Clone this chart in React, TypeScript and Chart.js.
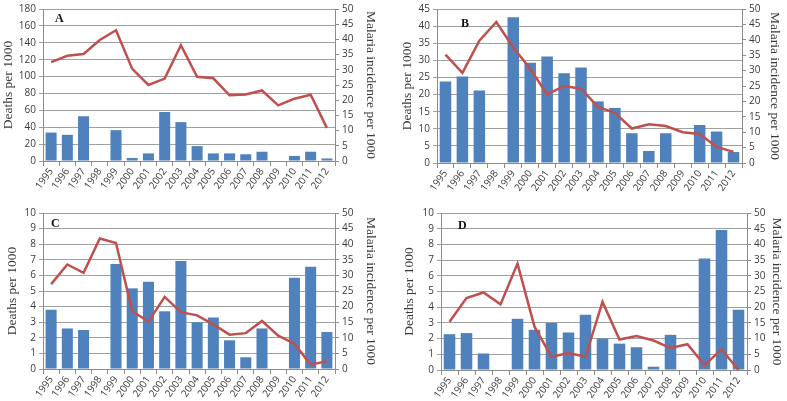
import React, { useEffect, useRef } from "react";
import { Chart, registerables } from "chart.js";
Chart.register(...registerables);

const years = ["1995","1996","1997","1998","1999","2000","2001","2002","2003","2004","2005","2006","2007","2008","2009","2010","2011","2012"];

const deathsA = [33.7, 31, 53, null, 36.5, 3.5, 9, 58, 46, 17.6, 9, 9, 8, 11, null, 6, 11, 3];
const incidenceA = [32.5, 34.6, 35.2, 39.8, 43, 30.3, 25, 27.1, 38.1, 27.7, 27.2, 21.6, 21.9, 23.2, 18.3, 20.5, 21.8, 10.9];

const deathsB = [23.8, 25.3, 21.2, null, 42.6, 29.3, 31.1, 26.2, 27.9, 18, 16.1, 8.7, 3.5, 8.7, null, 11.1, 9.2, 3.2];
const incidenceB = [35.2, 29.3, 39.7, 45.8, 37.5, 30.6, 22.3, 25, 24.1, 18.2, 16.3, 11.2, 12.6, 12, 10, 9.4, 5.2, 3.6];

const deathsC = [3.8, 2.6, 2.5, null, 6.73, 5.17, 5.6, 3.7, 6.92, 3.0, 3.3, 1.84, 0.75, 2.6, null, 5.85, 6.56, 2.37];
const incidenceC = [27.2, 33.5, 30.8, 41.8, 40.4, 18.5, 15.2, 23.1, 18.2, 17.2, 14.3, 11, 11.5, 15.4, 10.7, 8.1, 1.4, 2.5];

const deathsD = [2.28, 2.35, 1.05, null, 3.26, 2.56, 3.0, 2.39, 3.52, 2.0, 1.68, 1.45, 0.21, 2.24, null, 7.1, 8.91, 3.84];
const incidenceD = [15.4, 22.9, 24.7, 20.9, 33.9, 13.8, 4.2, 5.4, 4.2, 21.7, 9.7, 10.8, 9.4, 7.0, 8.2, 1.5, 6.6, 0];

const leftTitle = "Deaths per 1000";
const rightTitle = "Malaria incidence per 1000";

type Panel = {
  letter: string;
  deaths: (number | null)[];
  incidence: number[];
  leftMax: number;
  leftStep: number;
  box: { x: number; y: number; w: number; h: number };
  plot: { l: number; r: number; t: number; b: number };
  pad: { l: number; r: number };
  letterOff: { dx: number; dy: number };
};

const panels: Panel[] = [
  { letter: "A", deaths: deathsA, incidence: incidenceA, leftMax: 180, leftStep: 20,
    box: { x: 0, y: 0, w: 394, h: 200 }, plot: { l: 43, r: 335, t: 8, b: 161 }, pad: { l: 0, r: 15 }, letterOff: { dx: 12, dy: 4 } },
  { letter: "B", deaths: deathsB, incidence: incidenceB, leftMax: 45, leftStep: 5,
    box: { x: 394, y: 0, w: 393, h: 200 }, plot: { l: 43, r: 348, t: 6, b: 163 }, pad: { l: 5, r: 4 }, letterOff: { dx: 24, dy: 9 } },
  { letter: "C", deaths: deathsC, incidence: incidenceC, leftMax: 10, leftStep: 1,
    box: { x: 0, y: 200, w: 394, h: 201 }, plot: { l: 43, r: 335, t: 13, b: 169 }, pad: { l: 4, r: 15 }, letterOff: { dx: 8, dy: 5 } },
  { letter: "D", deaths: deathsD, incidence: incidenceD, leftMax: 10, leftStep: 1,
    box: { x: 394, y: 200, w: 393, h: 201 }, plot: { l: 47, r: 353, t: 13, b: 170 }, pad: { l: 7, r: 2 }, letterOff: { dx: 17, dy: 7 } },
];

const tickFont = { family: "'Open Sans', 'Liberation Sans', sans-serif", size: 10 };
const titleFont = { family: "'Liberation Serif', serif", size: 13.5 };
const textColor = "#3a3a3a";
const gridColor = "#a0a0a0";
const axisColor = "#8c8c8c";

function PanelChart({ p }: { p: Panel }) {
  const ref = useRef<HTMLCanvasElement | null>(null);
  useEffect(() => {
    if (!ref.current) return;
    const letterPlugin = {
      id: "letter" + p.letter,
      afterDraw(chart: any) {
        const ctx = chart.ctx;
        ctx.save();
        ctx.font = "bold 12px 'Liberation Serif', serif";
        ctx.fillStyle = "#111";
        ctx.textBaseline = "top";
        ctx.fillText(p.letter, chart.chartArea.left + p.letterOff.dx, chart.chartArea.top + p.letterOff.dy);
        ctx.restore();
      },
    };
    const chart = new Chart(ref.current, {
      type: "bar",
      data: {
        labels: years,
        datasets: [
          {
            type: "line",
            data: p.incidence,
            yAxisID: "y1",
            borderColor: "#c0504d",
            borderWidth: 2.5,
            pointRadius: 0,
            tension: 0,
            order: 0,
          } as any,
          {
            type: "bar",
            data: p.deaths,
            yAxisID: "y",
            backgroundColor: "#4f81bd",
            barPercentage: 1,
            categoryPercentage: 0.68,
            order: 1,
          } as any,
        ],
      },
      options: {
        animation: false,
        responsive: false,
        maintainAspectRatio: false,
        layout: { padding: { top: p.plot.t, left: p.pad.l, right: p.pad.r, bottom: 0 } },
        plugins: { legend: { display: false }, tooltip: { enabled: false } },
        scales: {
          x: {
            grid: { drawOnChartArea: false, offset: true, tickLength: 5, color: axisColor },
            border: { color: axisColor },
            ticks: { minRotation: 55, maxRotation: 55, autoSkip: false, font: tickFont, color: textColor, padding: 0 },
            afterFit: (s: any) => { s.height = p.box.h - p.plot.b; },
          },
          y: {
            position: "left",
            min: 0,
            max: p.leftMax,
            ticks: { stepSize: p.leftStep, font: tickFont, color: textColor, padding: 3 },
            grid: { color: gridColor, tickLength: 4 },
            border: { color: axisColor },
            title: { display: true, text: leftTitle, font: titleFont, color: textColor, padding: 0 },
            afterFit: (s: any) => { s.width = p.plot.l - p.pad.l; },
          },
          y1: {
            position: "right",
            min: 0,
            max: 50,
            ticks: { stepSize: 5, font: tickFont, color: textColor, padding: 3 },
            grid: { drawOnChartArea: false, tickLength: 4, color: axisColor },
            border: { color: axisColor },
            title: { display: true, text: rightTitle, font: titleFont, color: textColor, padding: 0 },
            afterFit: (s: any) => { s.width = p.box.w - p.pad.r - p.plot.r; },
          },
        },
      } as any,
      plugins: [letterPlugin],
    });
    return () => chart.destroy();
  }, [p]);
  return (
    <canvas
      ref={ref}
      width={p.box.w}
      height={p.box.h}
      style={{ position: "absolute", left: p.box.x, top: p.box.y, width: p.box.w, height: p.box.h }}
    />
  );
}

export default function App() {
  return (
    <div style={{ position: "absolute", left: 0, top: 0, width: 787, height: 401, background: "#fff" }}>
      {panels.map((p) => (
        <PanelChart key={p.letter} p={p} />
      ))}
    </div>
  );
}
